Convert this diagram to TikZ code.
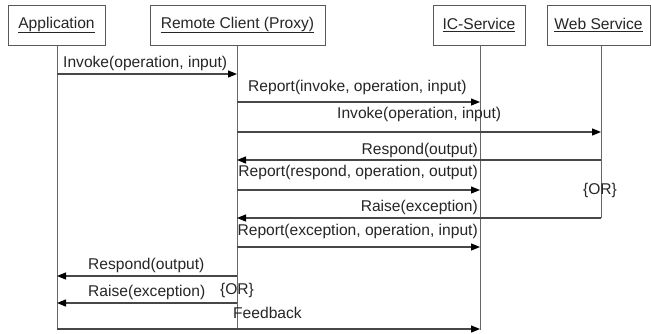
\documentclass[tikz,border=0pt]{standalone}
\usepackage{fontspec}
\setmainfont{Liberation Sans}
\usetikzlibrary{arrows.meta}
\begin{document}
\begin{tikzpicture}[x=1pt,y=-1pt,
  font=\fontsize{15.6}{18}\selectfont,
  actor/.style={draw=black!65, line width=1pt, fill=white, minimum height=40pt, inner sep=0pt, text=black!85},
  life/.style={draw=black!60, line width=1pt},
  msg/.style={draw=black!72, line width=1.2pt, -{Triangle[length=9pt,width=7pt,color=black]}},
  lbl/.style={inner sep=0pt, text=black!85}]
\useasboundingbox (0,0) rectangle (651,333);
\fill[white] (0,0) rectangle (651,333);
% actors
\node[actor, minimum width=97pt]  (app) at (56.5,25)  {\underline{Application}};
\node[actor, minimum width=175pt] (rc)  at (237.5,25) {\underline{Remote Client (Proxy)}};
\node[actor, minimum width=92pt]  (ic)  at (479,25)   {\underline{IC-Service}};
\node[actor, minimum width=103pt] (ws)  at (598.5,25) {\underline{Web Service}};
% lifelines
\coordinate (appT) at (57,45);  \coordinate (appB) at (57,330);
\coordinate (rcT)  at (237,45); \coordinate (rcB)  at (237,330);
\coordinate (icT)  at (480,45); \coordinate (icB)  at (480,330);
\coordinate (wsT)  at (601,45); \coordinate (wsB)  at (601,218);
\draw[life] (appT) -- (appB);
\draw[life] (rcT) -- (rcB);
\draw[life] (icT) -- (icB);
\draw[life] (wsT) -- (wsB);
% messages
\draw[msg] (appT |- 0,74)  -- (rcT |- 0,74);
\draw[msg] (rcT |- 0,102)  -- (icT |- 0,102);
\draw[msg] (rcT |- 0,132)  -- (wsT |- 0,132);
\draw[msg] (wsT |- 0,160)  -- (rcT |- 0,160);
\draw[msg] (rcT |- 0,190)  -- (icT |- 0,190);
\draw[msg] (wsT |- 0,218)  -- (rcT |- 0,218);
\draw[msg] (rcT |- 0,247)  -- (icT |- 0,247);
\draw[msg] (rcT |- 0,276)  -- (appT |- 0,276);
\draw[msg] (rcT |- 0,303)  -- (appT |- 0,303);
\draw[msg] (appT |- 0,329) -- (icT |- 0,329);
% labels
\node[lbl, anchor=west] (l1)  at (63,63)   {Invoke(operation, input)};
\node[lbl, anchor=west] (l2)  at (248,87)  {Report(invoke, operation, input)};
\node[lbl, anchor=west] (l3)  at (337,114) {Invoke(operation, input)};
\node[lbl, anchor=east] (l4)  at (478,150) {Respond(output)};
\node[lbl, anchor=east] (l5)  at (478,172) {Report(respond, operation, output)};
\node[lbl, anchor=east] (l6)  at (478,207) {Raise(exception)};
\node[lbl, anchor=east] (l7)  at (478,231) {Report(exception, operation, input)};
\node[lbl, anchor=west] (l8)  at (88,265)  {Respond(output)};
\node[lbl, anchor=west] (l9)  at (88,292)  {Raise(exception)};
\node[lbl]              (or1) at (237,290) {\{OR\}};
\node[lbl, anchor=west] (l10) at (233,313) {Feedback};
\node[lbl]              (or2) at (600,190) {\{OR\}};
\end{tikzpicture}
\end{document}
